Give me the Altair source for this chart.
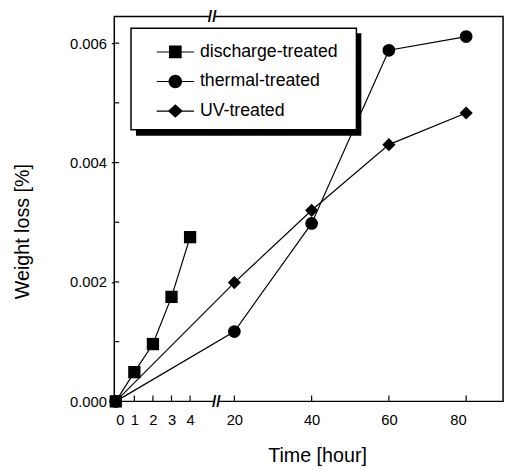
import altair as alt
import pandas as pd

# ---- data ----
series_names = ["discharge-treated", "thermal-treated", "UV-treated"]

discharge_time = [0, 1, 2, 3, 4]
discharge_loss = [0.0, 0.00049, 0.00096, 0.00175, 0.00275]

thermal_time = [0, 20, 40, 60, 80]
thermal_loss = [0.0, 0.00117, 0.00298, 0.00588, 0.00611]

uv_time = [0, 20, 40, 60, 80]
uv_loss = [0.0, 0.00199, 0.0032, 0.0043, 0.00483]

x_tick_values = [0, 1, 2, 3, 4, 20, 40, 60, 80]
x_inner_ticks = [1, 2, 3, 4, 20, 40, 60, 80]
y_tick_values = [0.0, 0.002, 0.004, 0.006]
y_inner_ticks = [0.001, 0.002, 0.003, 0.004, 0.005, 0.006]
break_positions = [12.0, 13.5]

FONT = "Liberation Sans"
H = 391

rows = []
for name, ts, vs in [("UV-treated", uv_time, uv_loss),
                     ("thermal-treated", thermal_time, thermal_loss),
                     ("discharge-treated", discharge_time, discharge_loss)]:
    for t, v in zip(ts, vs):
        rows.append({"series": name, "time": t, "loss": v})
df = pd.DataFrame(rows)

x_scale = alt.Scale(domain=[0, 4, 20, 80], range=[1.5, 77, 122, 357.5], nice=False, zero=False)
y_scale = alt.Scale(domain=[0, 0.006445], nice=False, zero=True)

x_enc = alt.X("time:Q", scale=x_scale,
              axis=alt.Axis(values=x_tick_values, ticks=False, labelPadding=12,
                            labelFontSize=15, title="Time [hour]",
                            titleX=206, titleY=55, titleBaseline="middle",
                            titleAlign="center", titleFontSize=20))
y_enc = alt.Y("loss:Q", scale=y_scale,
              axis=alt.Axis(values=y_tick_values, format=".3f", tickSize=3,
                            tickColor="black", tickWidth=1.2, labelPadding=5,
                            labelFontSize=15, title="Weight loss [%]",
                            titleX=-93, titleY=218, titleAngle=-90,
                            titleBaseline="middle", titleAlign="center",
                            titleFontSize=20))

lines = alt.Chart(df).mark_line(color="black", strokeWidth=1.2).encode(
    x=x_enc, y=y_enc, detail="series:N")

points = alt.Chart(df).mark_point(filled=True, color="black", opacity=1).encode(
    x="time:Q", y="loss:Q",
    shape=alt.Shape("series:N", scale=alt.Scale(domain=series_names,
                    range=["square", "circle", "diamond"]), legend=None),
    size=alt.Size("series:N", scale=alt.Scale(domain=series_names,
                  range=[156, 180, 210]), legend=None),
)

# legend box decoration
box_shadow = alt.Chart(alt.Data(values=[{}])).mark_rect(color="black").encode(
    x=alt.value(22), x2=alt.value(251), y=alt.value(17), y2=alt.value(121))
box = alt.Chart(alt.Data(values=[{}])).mark_rect(
    fill="white", stroke="black", strokeWidth=1.5).encode(
    x=alt.value(17), x2=alt.value(246), y=alt.value(12), y2=alt.value(115))

# legend symbols: a thin filled bar (the line) plus the marker, all clockwise
legend_paths = [
    "M-1,-0.032H1V0.032H-1Z M-0.34,-0.34H0.34V0.34H-0.34Z",
    "M-1,-0.032H1V0.032H-1Z M-0.36,0A0.36,0.36,0,1,1,0.36,0A0.36,0.36,0,1,1,-0.36,0Z",
    "M-1,-0.032H1V0.032H-1Z M-0.4,0L0,-0.36L0.4,0L0,0.36Z",
]
legend_layer = alt.Chart(df).transform_filter("false").mark_point(
    filled=True, color="black", size=1444, opacity=1).encode(
    x="time:Q", y="loss:Q",
    shape=alt.Shape("series:N", scale=alt.Scale(domain=series_names, range=legend_paths),
                    legend=alt.Legend(title=None, orient="none", legendX=42, legendY=16,
                                      labelFontSize=18, labelFont=FONT, labelColor="black",
                                      labelOffset=5, rowPadding=0, padding=0,
                                      symbolSize=1444, symbolFillColor="black",
                                      symbolOpacity=1)))

# inward ticks
ytick_df = pd.DataFrame({"loss": y_inner_ticks})
xtick_df = pd.DataFrame({"time": x_inner_ticks})
yticks = alt.Chart(ytick_df).mark_rule(color="black", strokeWidth=1.2).encode(
    y="loss:Q", x=alt.value(0), x2=alt.value(5))
xticks = alt.Chart(xtick_df).mark_rule(color="black", strokeWidth=1.2).encode(
    x="time:Q", y=alt.value(H), y2=alt.value(H - 6))

# axis break marks
brk_top = alt.Chart(pd.DataFrame({"time": [break_positions[0]]})).mark_text(
    text="//", fontSize=16, fontWeight="bold", font=FONT, color="black",
    baseline="middle", align="center").encode(x="time:Q", y=alt.value(1))
brk_bot = alt.Chart(pd.DataFrame({"time": [break_positions[1]]})).mark_text(
    text="//", fontSize=16, fontWeight="bold", font=FONT, color="black",
    baseline="middle", align="center").encode(x="time:Q", y=alt.value(H + 1))
gap_top = alt.Chart(pd.DataFrame({"time": [break_positions[0]]})).mark_point(
    shape="square", size=30, filled=True, color="white", opacity=1).encode(
    x="time:Q", y=alt.value(0))
gap_bot = alt.Chart(pd.DataFrame({"time": [break_positions[1]]})).mark_point(
    shape="square", size=30, filled=True, color="white", opacity=1).encode(
    x="time:Q", y=alt.value(H))

chart = alt.layer(
    lines, points, yticks, xticks, box_shadow, box, legend_layer,
    gap_top, gap_bot, brk_top, brk_bot
).resolve_scale(shape="independent").properties(
    width=395, height=H,
    autosize="none",
    padding={"left": 108, "top": 5, "right": 4, "bottom": 64},
).configure_view(
    stroke="black", strokeWidth=1.5
).configure_axis(
    labelFont=FONT, titleFont=FONT, labelColor="black", titleColor="black",
    titleFontWeight="normal", domain=False, grid=False
)

chart.save("out.html", embed_options={"renderer": "svg", "actions": False})
